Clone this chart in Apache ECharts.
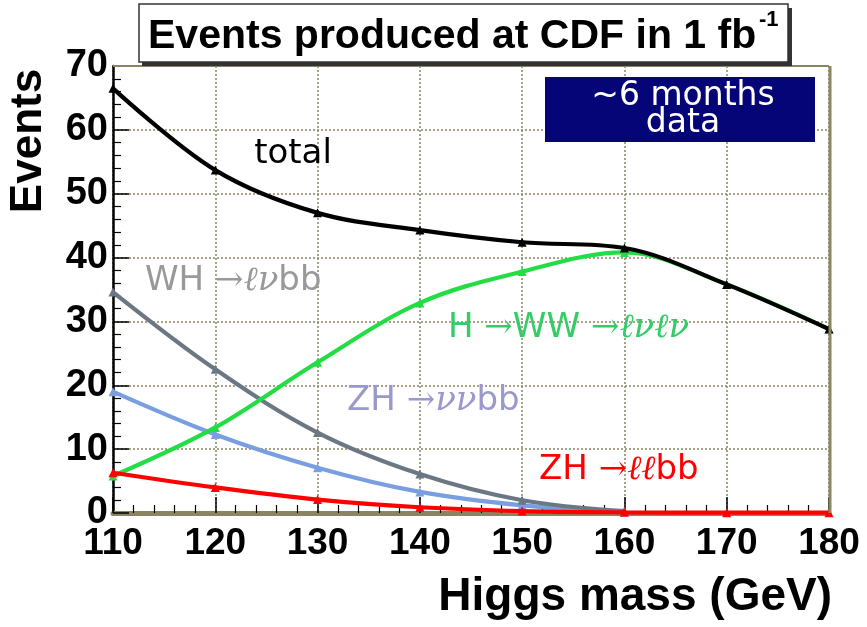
<!DOCTYPE html>
<html><head><meta charset="utf-8">
<script src="https://cdn.jsdelivr.net/npm/echarts@6/dist/echarts.min.js"></script>
<style>html,body{margin:0;padding:0;background:#fff}#c{width:867px;height:627px}</style>
</head><body><div id="c"></div>
<script>
const masses = [110, 120, 130, 140, 150, 160, 170, 180];
const total = [66.5, 53.7, 47.0, 44.3, 42.4, 41.5, 35.8, 28.8];
const hww = [5.8, 13.4, 23.6, 32.9, 37.8, 40.8, 35.8, 28.8];
const whlvbb = [34.6, 22.5, 12.6, 6.1, 2.0, 0.3];
const zhvvbb = [19.0, 12.3, 7.1, 3.3, 1.2, 0.2];
const zhllbb = [6.3, 4.0, 2.1, 0.9, 0.3, 0.1, 0.05, 0.05];
const yTicks = [0, 10, 20, 30, 40, 50, 60, 70];

const pairs = (ys) => ys.map((v, i) => [masses[i], v]);
const chart = echarts.init(document.getElementById('c'));
const boldFont = 'Liberation Sans, Arial, sans-serif';
function line(name, ys, color, z) {
  return {
    name, type: 'line', data: pairs(ys), smooth: 0.35, z,
    symbol: 'triangle', symbolSize: 9,
    lineStyle: { color, width: 4.2 }, itemStyle: { color }
  };
}
function label(x, y, parts, color) {
  return {
    type: 'text', x, y, z: 11,
    style: {
      text: parts.map(p => '{' + p[0] + '|' + p[1] + '}').join(''),
      align: 'left', verticalAlign: 'middle',
      rich: {
        a: { fill: color, font: '34px DejaVu Sans' },
        r: { fill: color, font: '34px DejaVu Serif' },
        m: { fill: color, font: 'italic 34px DejaVu Serif' }
      }
    }
  };
}
chart.setOption({
  animation: false,
  grid: { left: 113, right: 38, top: 66, bottom: 114 },
  xAxis: {
    type: 'value', min: 110, max: 180, interval: 10,
    axisLine: { lineStyle: { color: '#8a8462', width: 5 } },
    axisTick: { inside: true, length: 16, lineStyle: { color: '#000', width: 1.5 } },
    minorTick: { show: true, splitNumber: 5, length: 8, lineStyle: { color: '#000', width: 1.2 } },
    axisLabel: { fontFamily: boldFont, fontWeight: 'bold', fontSize: 37, color: '#000', margin: 12 },
    splitLine: { show: true, lineStyle: { color: '#8a8462', type: [2, 2], width: 1.5 } }
  },
  yAxis: {
    type: 'value', min: 0, max: 70, interval: 10,
    axisLine: { show: true, lineStyle: { color: '#000', width: 2.5 } },
    axisTick: { inside: true, length: 16, lineStyle: { color: '#000', width: 1.5 } },
    minorTick: { show: true, splitNumber: 5, length: 8, lineStyle: { color: '#000', width: 1.2 } },
    axisLabel: { fontFamily: boldFont, fontWeight: 'bold', fontSize: 38, color: '#000', margin: 5,
      formatter: v => yTicks.includes(v) ? String(v) : '' },
    splitLine: { show: true, lineStyle: { color: '#8a8462', type: [2, 2], width: 1.5 } }
  },
  series: [
    line('ZH→ννbb', zhvvbb, '#7a9fe0', 3),
    line('WH→ℓνbb', whlvbb, '#6b7884', 4),
    line('H→WW→ℓνℓν', hww, '#22dd44', 5),
    line('ZH→ℓℓbb', zhllbb, '#ff0000', 6),
    line('total', total, '#000000', 7)
  ],
  graphic: [
    { type: 'line', shape: { x1: 830, y1: 66, x2: 830, y2: 513 }, style: { stroke: '#8a8462', lineWidth: 3 }, z: 10 },
    { type: 'line', shape: { x1: 113, y1: 66, x2: 829, y2: 66 }, style: { stroke: '#8a8462', lineWidth: 2 }, z: 10 },
    { type: 'rect', shape: { x: 142, y: 8, width: 650, height: 58 }, style: { fill: '#333', stroke: null }, z: 10 },
    { type: 'rect', shape: { x: 139, y: 4, width: 649, height: 58 }, style: { fill: '#fff', stroke: '#333', lineWidth: 1.5 }, z: 11 },
    { type: 'text', x: 148, y: 37, z: 12, style: { text: 'Events produced at CDF in 1 fb', fill: '#000', font: 'bold 41px ' + boldFont, align: 'left', verticalAlign: 'middle' } },
    { type: 'text', x: 759, y: 20, z: 12, style: { text: '-1', fill: '#000', font: 'bold 22px ' + boldFont, align: 'left', verticalAlign: 'middle' } },
    { type: 'text', x: 832, y: 597, z: 12, style: { text: 'Higgs mass (GeV)', fill: '#000', font: 'bold 46px ' + boldFont, align: 'right', verticalAlign: 'middle' } },
    { type: 'text', x: 29, y: 141, rotation: Math.PI / 2, z: 12, style: { text: 'Events', fill: '#000', font: 'bold 44px ' + boldFont, align: 'center', verticalAlign: 'middle' } },
    { type: 'rect', shape: { x: 545, y: 77, width: 270, height: 65 }, style: { fill: '#050578' }, z: 10 },
    { type: 'text', x: 683, y: 96, z: 11, style: { text: '~6 months', fill: '#fff', font: '33px DejaVu Sans', align: 'center', verticalAlign: 'middle' } },
    { type: 'text', x: 683, y: 123, z: 11, style: { text: 'data', fill: '#fff', font: '33px DejaVu Sans', align: 'center', verticalAlign: 'middle' } },
    { type: 'text', x: 293, y: 154, z: 11, style: { text: 'total', fill: '#000', font: '34px DejaVu Sans', align: 'center', verticalAlign: 'middle' } },
    label(145, 281, [['a', 'WH '], ['r', '→'], ['m', 'ℓν'], ['a', 'bb']], '#999999'),
    label(448, 328, [['a', 'H '], ['r', '→'], ['a', 'WW '], ['r', '→'], ['m', 'ℓνℓν']], '#33cc66'),
    label(347, 401, [['a', 'ZH '], ['r', '→'], ['m', 'νν'], ['a', 'bb']], '#9999cc'),
    label(539, 470, [['a', 'ZH '], ['r', '→'], ['m', 'ℓℓ'], ['a', 'bb']], '#ff0000')
  ]
});
</script></body></html>
